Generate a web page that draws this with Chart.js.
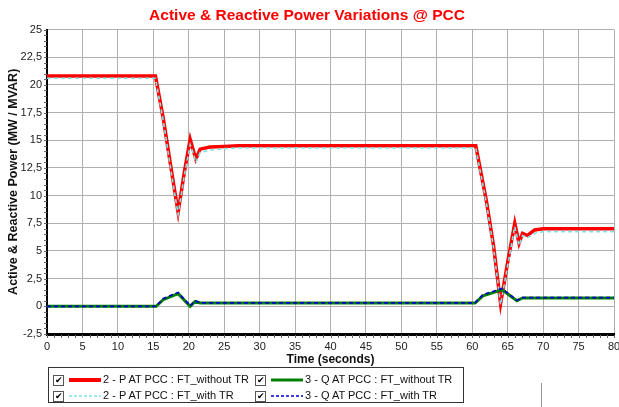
<!DOCTYPE html>
<html>
<head>
<meta charset="utf-8">
<script src="https://cdn.jsdelivr.net/npm/chart.js@4/dist/chart.umd.min.js"></script>
<style>
    html, body { margin: 0; padding: 0; background: #fff; }
    #wrap { position: relative; width: 619px; height: 407px; font-family: 'Liberation Sans', Arial, sans-serif; }
    #legend {
        position: absolute; left: 48px; top: 367px; width: 416px; height: 36px;
        border: 1px solid #333; box-sizing: border-box; font-size: 11px; color: #111;
    }
    .item { position: absolute; height: 14px; line-height: 14px; white-space: nowrap; }
    .cb {
        display: inline-block; width: 9px; height: 9px; border: 1px solid #555; font-size: 9px;
        line-height: 9px; text-align: center; vertical-align: middle; margin-right: 5px; color: #000;
    }
    .sample { display: inline-block; width: 32px; vertical-align: middle; margin-right: 2px; }
</style>
</head>
<body>
<div id="wrap">
    <canvas id="powerChart" width="619" height="407"></canvas>
    <div id="legend"></div>
    <div style="position:absolute;left:541px;top:383px;width:1px;height:24px;background:#999"></div>
</div>
<script>
    // valeurs (temps en s, puissance en MW / MVAR)
    const tP = [0, 15.3, 16.4, 17.5, 18.5, 19.4, 20.2, 20.6, 21.0, 21.6, 23, 25, 27, 60.5, 62, 63, 64.0, 65.0, 66.0, 66.6, 67.1, 67.8, 68.8, 70, 80];
    const pWithout = [20.8, 20.8, 17.0, 12.5, 8.5, 12.2, 15.1, 14.2, 13.3, 14.2, 14.4, 14.45, 14.5, 14.5, 9.5, 5.5, 0.25, 4.0, 7.5, 5.7, 6.6, 6.4, 6.9, 7.0, 7.0];
    const pWith = [20.6, 20.6, 16.8, 12.2, 8.3, 11.9, 14.6, 13.9, 13.0, 13.9, 14.1, 14.25, 14.3, 14.3, 9.3, 5.3, 0.15, 3.7, 7.2, 5.5, 6.4, 6.2, 6.6, 6.75, 6.75];

    const tQ = [0, 15.4, 16.4, 18.5, 20.2, 20.9, 21.6, 60.4, 61.5, 64.2, 66.3, 67.1, 80];
    const qWithout = [0, 0, 0.6, 1.15, 0.0, 0.45, 0.3, 0.3, 0.95, 1.5, 0.5, 0.75, 0.75];
    const qWith = [0, 0, 0.7, 1.25, 0.05, 0.5, 0.32, 0.32, 1.05, 1.6, 0.55, 0.78, 0.78];

    const legendLabels = [
        '2 - P AT PCC : FT_without TR',
        '2 - P AT PCC : FT_with TR',
        '3 - Q AT PCC : FT_without TR',
        '3 - Q AT PCC : FT_with TR'
    ];

    const toXY = (ts, vs) => ts.map((t, i) => ({ x: t, y: vs[i] }));
    const comma = (v) => String(v).replace('.', ',');

    // petites graduations mineures sur les axes
    const minorTicks = {
        id: 'minorTicks',
        afterDraw(chart) {
            const c = chart.ctx, xs = chart.scales.x, ys = chart.scales.y;
            c.save();
            c.strokeStyle = '#666';
            c.lineWidth = 1;
            for (let v = -2.5; v <= 25.001; v += 0.5) {
                const p = Math.round(ys.getPixelForValue(v)) + 0.5;
                c.beginPath(); c.moveTo(xs.left - 3, p); c.lineTo(xs.left, p); c.stroke();
            }
            for (let v = 0; v <= 80; v += 1) {
                const p = Math.round(xs.getPixelForValue(v)) + 0.5;
                c.beginPath(); c.moveTo(p, ys.bottom + 1); c.lineTo(p, ys.bottom + 4); c.stroke();
            }
            c.restore();
        }
    };

    const font = { family: "'Liberation Sans', Arial, sans-serif", size: 11 };

    new Chart(document.getElementById('powerChart'), {
        type: 'line',
        data: {
            datasets: [
                { label: legendLabels[0], data: toXY(tP, pWithout), borderColor: '#ff0000', borderWidth: 3.5, order: 4 },
                { label: legendLabels[1], data: toXY(tP, pWith), borderColor: '#7fe3e6', borderWidth: 1.6, borderDash: [4, 3], order: 3 },
                { label: legendLabels[2], data: toXY(tQ, qWithout), borderColor: '#008000', borderWidth: 3, order: 2 },
                { label: legendLabels[3], data: toXY(tQ, qWith), borderColor: '#0000d0', borderWidth: 1.8, borderDash: [4, 3], order: 1 }
            ]
        },
        options: {
            responsive: false,
            animation: false,
            elements: { point: { radius: 0 }, line: { tension: 0, borderCapStyle: 'butt' } },
            layout: { padding: { left: 0, right: 5, top: 0, bottom: 40 } },
            plugins: {
                legend: { display: false },
                tooltip: { enabled: false },
                title: {
                    display: true,
                    text: 'Active & Reactive Power Variations @ PCC',
                    color: '#ff0000',
                    font: { family: font.family, size: 15.5, weight: 'bold' },
                    padding: { top: 6, bottom: 5 }
                }
            },
            scales: {
                x: {
                    type: 'linear', min: 0, max: 80,
                    ticks: { stepSize: 5, color: '#222', font: font, padding: 6, maxRotation: 0 },
                    grid: { color: '#b0b0b0', lineWidth: 1, drawTicks: false },
                    border: { display: true, color: '#000', width: 3 },
                    title: { display: true, text: 'Time (seconds)', color: '#111', font: { family: font.family, size: 12, weight: 'bold' }, padding: { top: 0, bottom: 0 } },
                    afterFit: (s) => { s.paddingRight = 0; s.paddingLeft = 0; s.height = 33; }
                },
                y: {
                    min: -2.5, max: 25,
                    ticks: { stepSize: 2.5, color: '#222', font: font, padding: 5, callback: (v) => comma(v) },
                    grid: { color: '#b0b0b0', lineWidth: 1, drawTicks: false },
                    border: { display: true, color: '#000', width: 2 },
                    title: { display: true, text: 'Active & Reactive Power (MW / MVAR)', color: '#111', font: { family: font.family, size: 12.5, weight: 'bold' }, padding: { top: 6, bottom: 0 } },
                    afterFit: (s) => { s.width = 47; }
                }
            }
        },
        plugins: [minorTicks]
    });

    // légende façon boîte avec cases cochées
    const legendEl = document.getElementById('legend');
    const samples = [
        '<svg class="sample" width="32" height="6"><line x1="0" y1="3" x2="32" y2="3" stroke="#ff0000" stroke-width="4"/></svg>',
        '<svg class="sample" width="32" height="6"><line x1="0" y1="3" x2="32" y2="3" stroke="#7fe3e6" stroke-width="1.5" stroke-dasharray="3,2"/></svg>',
        '<svg class="sample" width="32" height="6"><line x1="0" y1="3" x2="32" y2="3" stroke="#008000" stroke-width="3"/></svg>',
        '<svg class="sample" width="32" height="6"><line x1="0" y1="3" x2="32" y2="3" stroke="#0000d0" stroke-width="1.5" stroke-dasharray="3,2"/></svg>'
    ];
    const pos = [[4, 4], [4, 20], [206, 4], [206, 20]];
    legendLabels.forEach((lab, i) => {
        const d = document.createElement('div');
        d.className = 'item';
        d.style.left = pos[i][0] + 'px';
        d.style.top = pos[i][1] + 'px';
        d.innerHTML = '<span class="cb">&#10004;</span>' + samples[i] + lab;
        legendEl.appendChild(d);
    });
</script>
</body>
</html>
